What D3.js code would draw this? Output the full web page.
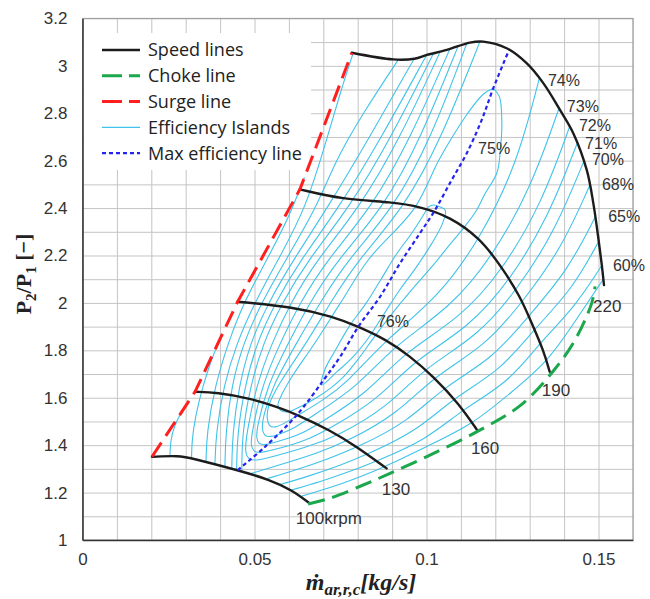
<!DOCTYPE html>
<html><head><meta charset="utf-8">
<script src="https://cdn.jsdelivr.net/npm/d3@7"></script>
<style>body{margin:0;background:#fff;} svg{display:block;}</style>
</head><body>
<svg id="chart" width="650" height="599"></svg>
<script>
// ---------------- DATA ----------------
const xTickValues = [0, 0.05, 0.1, 0.15];
const yTickValues = [1, 1.2, 1.4, 1.6, 1.8, 2, 2.2, 2.4, 2.6, 2.8, 3, 3.2];

// speed lines [mass flow kg/s, pressure ratio]
const speed100 = [[0.0202,1.351],[0.0281,1.356],[0.0317,1.345],[0.0451,1.295],[0.0547,1.253],[0.0608,1.211],[0.0660,1.155]];
const speed130 = [[0.0327,1.625],[0.039,1.623],[0.0487,1.598],[0.0574,1.557],[0.0623,1.529],[0.0719,1.464],[0.0797,1.394],[0.0884,1.302]];
const speed160 = [[0.0451,2.005],[0.0608,1.984],[0.0729,1.942],[0.0802,1.90],[0.0884,1.844],[0.0952,1.775],[0.102,1.689],[0.1093,1.577],[0.1147,1.464]];
const speed190 = [[0.0632,2.479],[0.0753,2.437],[0.0903,2.425],[0.0981,2.406],[0.1068,2.364],[0.1156,2.272],[0.1214,2.16],[0.1272,2.03],[0.131,1.90],[0.134,1.80],[0.1358,1.71]];
const speed220 = [[0.0783,3.055],[0.0903,3.027],[0.0965,3.030],[0.1001,3.046],[0.1059,3.067],[0.1126,3.098],[0.1165,3.102],[0.1233,3.074],[0.1291,3.011],[0.134,2.926],[0.1388,2.814],[0.1427,2.715],[0.1466,2.56],[0.1485,2.42],[0.1499,2.279],[0.1509,2.167],[0.1516,2.075]];

const surgeLine = [[0.0202,1.351],[0.0327,1.625],[0.0451,2.005],[0.0632,2.479],[0.0783,3.055]];
const chokeLine = [[0.0656,1.152],[0.0719,1.176],[0.0816,1.232],[0.0894,1.281],[0.101,1.358],[0.1147,1.457],[0.1274,1.569],[0.1371,1.717],[0.1432,1.844],[0.148,1.998],[0.1490,2.07]];
const maxEffLine = [[0.0451,1.295],[0.0526,1.387],[0.0623,1.527],[0.0701,1.675],[0.0749,1.773],[0.0802,1.9],[0.0865,2.026],[0.0923,2.167],[0.0981,2.294],[0.1025,2.392],[0.1073,2.518],[0.1117,2.631],[0.1160,2.77],[0.1194,2.905],[0.1238,3.06]];

// efficiency islands (contours)
const eff40 = [[0.0254,1.354],[0.0256,1.42],[0.0266,1.48],[0.0290,1.545]];
const eff45 = [[0.0317,1.345],[0.0318,1.42],[0.0328,1.52],[0.0348,1.64],[0.0372,1.75],[0.0397,1.84]];
const eff50 = [[0.0359,1.329],[0.0361,1.45],[0.0385,1.65],[0.0423,1.83],[0.0468,2.0],[0.0535,2.18],[0.0600,2.36],[0.0645,2.53]];
const eff55Left = [[0.0385,1.320],[0.0388,1.45],[0.0410,1.65],[0.0448,1.83],[0.0500,2.0],[0.0568,2.18],[0.0650,2.4],[0.0712,2.7],[0.0752,2.9],[0.0786,3.05]];
const eff55Right = [[0.0637,1.185],[0.072,1.22],[0.080,1.262],[0.0878,1.308],[0.1007,1.399],[0.1135,1.489],[0.1244,1.62],[0.1352,1.75],[0.1433,1.925],[0.1514,2.10]];
const eff60Left = [[0.0414,1.309],[0.0416,1.45],[0.0433,1.65],[0.0467,1.83],[0.0520,2.0],[0.0590,2.18],[0.0680,2.4],[0.0735,2.6],[0.0815,2.8],[0.0918,3.026]];
const eff60Right = [[0.0608,1.211],[0.069,1.245],[0.078,1.29],[0.0855,1.333],[0.100,1.423],[0.1105,1.552],[0.1238,1.663],[0.1330,1.833],[0.1430,1.98],[0.1510,2.159]];
const eff62Left = [[0.0434,1.301],[0.0436,1.45],[0.0455,1.65],[0.0487,1.83],[0.0540,2.0],[0.0612,2.18],[0.0712,2.4],[0.0835,2.7],[0.0965,3.032]];
const eff62Right = [[0.0574,1.234],[0.066,1.27],[0.075,1.315],[0.0828,1.361],[0.0973,1.46],[0.1078,1.600],[0.1216,1.715],[0.1313,1.89],[0.1423,2.055],[0.1501,2.26]];
const eff65Left = [[0.0448,1.296],[0.0450,1.45],[0.0472,1.65],[0.0506,1.83],[0.0560,2.0],[0.0633,2.18],[0.0745,2.4],[0.0870,2.7],[0.1000,3.045]];
const eff65Right = [[0.0535,1.258],[0.062,1.295],[0.071,1.34],[0.0800,1.391],[0.0945,1.498],[0.1049,1.645],[0.1193,1.765],[0.1297,1.945],[0.141,2.135],[0.1491,2.364]];
const eff68Left = [[0.0463,1.290],[0.0464,1.45],[0.0488,1.65],[0.0525,1.83],[0.0580,2.0],[0.0655,2.18],[0.0775,2.4],[0.0898,2.7],[0.1020,3.052]];
const eff68Right = [[0.0487,1.279],[0.058,1.32],[0.068,1.365],[0.0772,1.417],[0.0916,1.533],[0.102,1.689],[0.117,1.817],[0.128,2.005],[0.1393,2.231],[0.1475,2.497]];
const eff70 = [[0.1040,3.06],[0.0925,2.7],[0.0805,2.4],[0.0680,2.18],[0.0605,2.0],[0.0550,1.83],[0.0505,1.65],[0.0477,1.45],[0.0472,1.37],[0.0482,1.34],[0.0505,1.334],[0.055,1.350],[0.065,1.39],[0.0745,1.441],[0.0888,1.562],[0.0991,1.723],[0.1147,1.858],[0.1262,2.052],[0.1374,2.304],[0.1457,2.596]];
const eff71 = [[0.1068,3.071],[0.0955,2.7],[0.084,2.4],[0.071,2.18],[0.0632,2.0],[0.0574,1.83],[0.0521,1.65],[0.0492,1.45],[0.0489,1.40],[0.0497,1.372],[0.0515,1.366],[0.057,1.385],[0.065,1.42],[0.0715,1.467],[0.0859,1.592],[0.0962,1.756],[0.1123,1.896],[0.1243,2.095],[0.1355,2.364],[0.1438,2.673]];
const eff72 = [[0.1092,3.083],[0.0985,2.7],[0.0875,2.4],[0.074,2.18],[0.066,2.0],[0.0598,1.83],[0.0537,1.65],[0.0508,1.48],[0.0505,1.43],[0.0512,1.405],[0.053,1.399],[0.058,1.42],[0.064,1.45],[0.0685,1.489],[0.0829,1.62],[0.0933,1.79],[0.1098,1.935],[0.1222,2.14],[0.1335,2.42],[0.1416,2.743]];
const eff73 = [[0.1117,3.094],[0.1015,2.7],[0.0905,2.4],[0.077,2.18],[0.069,2.0],[0.0622,1.83],[0.0552,1.65],[0.0525,1.52],[0.0521,1.47],[0.0528,1.44],[0.0545,1.433],[0.058,1.45],[0.062,1.475],[0.0655,1.511],[0.080,1.646],[0.0905,1.82],[0.107,1.98],[0.1194,2.2],[0.1305,2.49],[0.1385,2.82]];
const eff74 = [[0.1155,3.101],[0.1045,2.7],[0.0935,2.4],[0.080,2.18],[0.072,2.0],[0.0651,1.83],[0.0566,1.65],[0.0537,1.56],[0.0536,1.51],[0.0542,1.48],[0.0558,1.473],[0.0585,1.49],[0.0625,1.525],[0.070,1.59],[0.0772,1.667],[0.0878,1.841],[0.1037,2.027],[0.1156,2.272],[0.1262,2.58],[0.1328,2.947]];
const eff75 = [[0.1194,2.905],[0.1165,2.88],[0.112,2.8],[0.1075,2.7],[0.1035,2.6],[0.0965,2.4],[0.083,2.18],[0.075,2.0],[0.0675,1.83],[0.0605,1.68],[0.0575,1.60],[0.0568,1.57],[0.0575,1.548],[0.0595,1.54],[0.063,1.56],[0.068,1.60],[0.0725,1.645],[0.076,1.69],[0.080,1.76],[0.085,1.86],[0.090,1.955],[0.096,2.06],[0.102,2.16],[0.107,2.25],[0.111,2.32],[0.1145,2.39],[0.117,2.46],[0.1205,2.55],[0.1215,2.65],[0.1219,2.757],[0.1212,2.87],[0.1194,2.905]];
const eff76 = [[0.1005,2.405],[0.0995,2.38],[0.096,2.3],[0.091,2.2],[0.0868,2.1],[0.0825,2.0],[0.0775,1.9],[0.0735,1.8],[0.0705,1.72],[0.0695,1.654],[0.074,1.71],[0.0785,1.77],[0.083,1.85],[0.0875,1.95],[0.092,2.05],[0.097,2.15],[0.1015,2.25],[0.1045,2.33],[0.1055,2.39],[0.104,2.405],[0.102,2.413],[0.1005,2.405]];

// annotation labels: text and anchor in data units
const effLabelText = ["74%","73%","72%","71%","70%","68%","65%","60%","75%","76%"];
const effLabelPos  = [[0.1353,2.916],[0.1408,2.804],[0.1443,2.723],[0.1461,2.651],[0.1481,2.580],[0.1510,2.477],[0.1528,2.340],[0.1542,2.136],[0.1150,2.629],[0.0856,1.897]];
const speedLabelText = ["220","190","160","130","100krpm"];
const speedLabelPos  = [[0.1484,1.963],[0.1335,1.609],[0.1129,1.363],[0.0870,1.190],[0.0620,1.067]];

const legendNames = ["Speed lines","Choke line","Surge line","Efficiency Islands","Max efficiency line"];

// ---------------- CHART ----------------
const svg = d3.select("#chart");
const x = d3.scaleLinear().domain([0, 0.16]).range([82.5, 632.9]);
const y = d3.scaleLinear().domain([1, 3.2]).range([540, 18.4]);
const plotW = x.range()[1]-x.range()[0], plotH = y.range()[0]-y.range()[1];

const COL = {speed:"#1c1c1c", choke:"#1ba84c", surge:"#ff1f1f", eff:"#40c3ea", maxEff:"#2424f0", grid:"#c4c4c4", text:"#333"};
const SANS = "Liberation Sans, Arial, sans-serif";

// grid
svg.append("g").attr("transform",`translate(0,${y.range()[0]})`)
  .call(d3.axisBottom(x).ticks(16).tickSize(-plotH).tickFormat(""))
  .call(g=>g.select(".domain").remove())
  .call(g=>g.selectAll("line").attr("stroke",COL.grid).attr("stroke-width",1));
svg.append("g").attr("transform",`translate(${x.range()[0]},0)`)
  .call(d3.axisLeft(y).ticks(22).tickSize(-plotW).tickFormat(""))
  .call(g=>g.select(".domain").remove())
  .call(g=>g.selectAll("line").attr("stroke",COL.grid).attr("stroke-width",1));

// frame
svg.append("rect").attr("x",x.range()[0]).attr("y",y.range()[1]).attr("width",plotW).attr("height",plotH)
  .attr("fill","none").attr("stroke","#9a9a9a").attr("stroke-width",1);

// legend background
svg.append("rect").attr("x",x.range()[0]+1).attr("y",33).attr("width",310-x.range()[0]).attr("height",137).attr("fill","#fff");

const smooth = d3.line().x(d=>x(d[0])).y(d=>y(d[1])).curve(d3.curveCatmullRom.alpha(0.5));
const soft = d3.line().x(d=>x(d[0])).y(d=>y(d[1])).curve(d3.curveBasis);
const straight = d3.line().x(d=>x(d[0])).y(d=>y(d[1]));

// efficiency contours
const effSets = [eff40,eff45,eff50,eff55Left,eff55Right,eff60Left,eff60Right,eff62Left,eff62Right,eff65Left,eff65Right,eff68Left,eff68Right,eff70,eff71,eff72,eff73,eff74,eff75,eff76];
svg.append("g").selectAll("path").data(effSets).join("path")
  .attr("d",(d,i)=> i>=18 ? smooth(d) : soft(d)).attr("fill","none").attr("stroke",COL.eff).attr("stroke-width",1.1);

// speed lines
svg.append("g").selectAll("path").data([speed100,speed130,speed160,speed190]).join("path")
  .attr("d",soft).attr("fill","none").attr("stroke",COL.speed).attr("stroke-width",2.4).attr("stroke-linecap","round");
svg.append("path").datum(speed220).attr("d",smooth).attr("fill","none").attr("stroke",COL.speed).attr("stroke-width",2.4).attr("stroke-linecap","round");

// surge, choke, max eff
svg.append("path").datum(surgeLine).attr("d",straight).attr("fill","none").attr("stroke",COL.surge)
  .attr("stroke-width",3).attr("stroke-dasharray","17,8");
svg.append("path").datum(chokeLine).attr("d",smooth).attr("fill","none").attr("stroke",COL.choke)
  .attr("stroke-width",3).attr("stroke-dasharray","17,8");
svg.append("path").datum(maxEffLine).attr("d",smooth).attr("fill","none").attr("stroke",COL.maxEff)
  .attr("stroke-width",2.2).attr("stroke-dasharray","4,3");

// labels
const lab = svg.append("g").attr("font-family",SANS).attr("fill",COL.text);
lab.selectAll("text.e").data(effLabelText).join("text").attr("class","e").attr("font-size",16)
  .attr("x",(d,i)=>x(effLabelPos[i][0])).attr("y",(d,i)=>y(effLabelPos[i][1])).text(d=>d);
lab.selectAll("text.s").data(speedLabelText).join("text").attr("class","s").attr("font-size",17)
  .attr("x",(d,i)=>x(speedLabelPos[i][0])).attr("y",(d,i)=>y(speedLabelPos[i][1])).text(d=>d);

// axes
const fmt = d=>String(d);
svg.append("g").attr("transform",`translate(0,${y.range()[0]})`)
  .call(d3.axisBottom(x).tickValues(xTickValues).tickSize(0).tickPadding(13).tickFormat(fmt))
  .call(g=>g.select(".domain").attr("stroke","#333").attr("stroke-width",1.5))
  .call(g=>g.selectAll("text").attr("font-family",SANS).attr("font-size",17).attr("fill",COL.text));
svg.append("g").attr("transform",`translate(${x.range()[0]},0)`)
  .call(d3.axisLeft(y).tickValues(yTickValues).tickSize(0).tickPadding(15).tickFormat(fmt))
  .call(g=>g.select(".domain").attr("stroke","#333").attr("stroke-width",1.5))
  .call(g=>g.selectAll("text").attr("font-family",SANS).attr("font-size",17).attr("fill",COL.text));

// legend items
const legStyles = [
  {stroke:COL.speed, w:2.4, dash:null},
  {stroke:COL.choke, w:3, dash:"20,7"},
  {stroke:COL.surge, w:3, dash:"20,7"},
  {stroke:COL.eff, w:1.1, dash:null},
  {stroke:COL.maxEff, w:2.2, dash:"4,3"}];
const leg = svg.append("g");
legendNames.forEach((name,i)=>{
  const cy = 50 + i*25.8;
  const s = legStyles[i];
  leg.append("line").attr("x1",102).attr("x2",140).attr("y1",cy).attr("y2",cy)
    .attr("stroke",s.stroke).attr("stroke-width",s.w).attr("stroke-dasharray",s.dash);
  leg.append("text").attr("x",148).attr("y",cy).attr("dy","0.35em")
    .attr("font-family","Open Sans, sans-serif").attr("font-size",18).attr("fill","#222").text(name);
});

// axis titles
const yt = svg.append("text").attr("transform","translate(31,274) rotate(-90)").attr("text-anchor","middle")
  .attr("font-family","Liberation Serif, DejaVu Serif, serif").attr("font-weight","bold").attr("font-size",22).attr("fill","#222");
yt.append("tspan").text("P");
yt.append("tspan").attr("dy",5).attr("font-size",15).text("2");
yt.append("tspan").attr("dy",-5).text("/P");
yt.append("tspan").attr("dy",5).attr("font-size",15).text("1");
yt.append("tspan").attr("dy",-5).text(" [\u2212]");

const xt = svg.append("text").attr("x",361).attr("y",590).attr("text-anchor","middle")
  .attr("font-family","Liberation Serif, DejaVu Serif, serif").attr("font-weight","bold").attr("font-style","italic").attr("font-size",24).attr("fill","#222");
xt.append("tspan").text("\u1E41");
xt.append("tspan").attr("dy",5).attr("font-size",17).text("ar,r,c");
xt.append("tspan").attr("dy",-5).text("[kg/s]");
</script>
</body></html>
